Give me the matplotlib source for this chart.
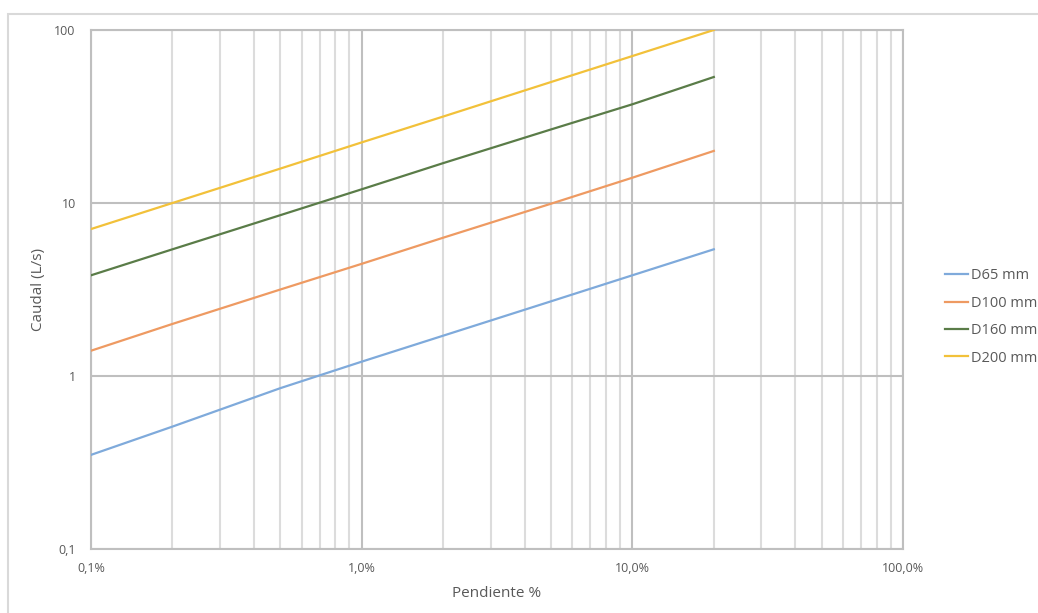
import matplotlib
matplotlib.use("Agg")
import matplotlib.pyplot as plt
from matplotlib.ticker import FixedLocator, NullFormatter, LogLocator
from matplotlib.patches import Rectangle

plt.rcParams['font.family'] = ['Open Sans', 'DejaVu Sans']

pendiente = [0.1, 0.2, 0.5, 1, 2, 5, 10, 20]
d65 = [0.35, 0.51, 0.85, 1.21, 1.71, 2.7, 3.82, 5.4]
d100 = [1.4, 2.0, 3.16, 4.45, 6.3, 9.9, 14.0, 20.0]
d160 = [3.82, 5.4, 8.5, 12.0, 17.0, 26.6, 37.2, 53.5]
d200 = [7.07, 10.0, 15.8, 22.4, 31.6, 50.0, 70.7, 100.0]
series_names = ["D65 mm", "D100 mm", "D160 mm", "D200 mm"]
colors = ["#7FAADB", "#EE9A62", "#5A7C48", "#F2C13A"]
x_ticks = [0.1, 1, 10, 100]
x_labels = ["0,1%", "1,0%", "10,0%", "100,0%"]
y_ticks = [0.1, 1, 10, 100]
y_labels = ["0,1", "1", "10", "100"]

W, H = 1038, 613
fig = plt.figure(figsize=(W / 100, H / 100), dpi=100)
fig.patches.append(Rectangle((8 / W, -0.05), 1.5, (H - 14) / H + 0.05, transform=fig.transFigure,
                             fill=False, edgecolor="#d9d9d9", linewidth=1.5))
ax = fig.add_axes([91 / W, 1 - 549 / H, (903 - 91) / W, (549 - 30) / H])

for name, vals, c in zip(series_names, [d65, d100, d160, d200], colors):
    ax.plot(pendiente, vals, color=c, linewidth=1.6, label=name, zorder=3)

ax.set_xscale("log")
ax.set_yscale("log")
ax.set_xlim(0.1, 100)
ax.set_ylim(0.1, 100)
ax.xaxis.set_major_locator(FixedLocator(x_ticks))
ax.set_xticklabels(x_labels)
ax.yaxis.set_major_locator(FixedLocator(y_ticks))
ax.set_yticklabels(y_labels)
ax.xaxis.set_minor_locator(LogLocator(base=10, subs=range(2, 10)))
ax.xaxis.set_minor_formatter(NullFormatter())
ax.yaxis.set_minor_locator(FixedLocator([]))

ax.grid(True, which="major", color="#bfbfbf", linewidth=1.5, zorder=1)
ax.grid(True, which="minor", axis="x", color="#dcdcdc", linewidth=1.5, zorder=1)
for s in ax.spines.values():
    s.set_color("#bfbfbf")
    s.set_linewidth(1.5)
ax.tick_params(which="both", length=0, labelsize=9, labelcolor="#595959")
ax.tick_params(axis="x", pad=9)
ax.tick_params(axis="y", pad=11)

ax.set_xlabel("Pendiente %", fontsize=11, color="#595959", labelpad=8)
ax.set_ylabel("Caudal (L/s)", fontsize=11, color="#595959", labelpad=6)

leg = ax.legend(loc="center left", bbox_to_anchor=(1.035, 0.447), frameon=False,
                fontsize=10.5, labelcolor="#595959", handlelength=1.6,
                handletextpad=0.2, labelspacing=0.85)

fig.savefig("out.png", dpi=100)
